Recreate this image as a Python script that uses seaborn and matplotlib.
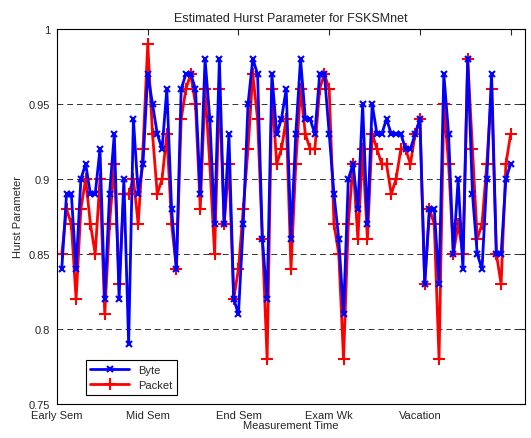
import numpy as np
import pandas as pd
import matplotlib
matplotlib.use("Agg")
import matplotlib.pyplot as plt
import seaborn as sns

sns.set_style("white")
plt.rcParams["font.family"] = ["Liberation Sans", "DejaVu Sans"]

# ── DATA ──────────────────────────────────────────────────────────────────────
byte_h = [0.84, 0.89, 0.89, 0.84, 0.90, 0.91, 0.89, 0.89, 0.92, 0.82,
          0.89, 0.93, 0.82, 0.90, 0.79, 0.94, 0.89, 0.91, 0.97, 0.95,
          0.93, 0.92, 0.96, 0.88, 0.84, 0.96, 0.97, 0.97, 0.96, 0.89,
          0.98, 0.94, 0.87, 0.98, 0.87, 0.93, 0.82, 0.81, 0.87, 0.95,
          0.98, 0.97, 0.86, 0.82, 0.97, 0.93, 0.94, 0.96, 0.86, 0.93,
          0.98, 0.94, 0.94, 0.93, 0.97, 0.97, 0.93, 0.89, 0.86, 0.81,
          0.90, 0.91, 0.88, 0.95, 0.87, 0.95, 0.93, 0.93, 0.94, 0.93,
          0.93, 0.93, 0.92, 0.92, 0.93, 0.94, 0.83, 0.88, 0.88, 0.83,
          0.97, 0.93, 0.85, 0.90, 0.84, 0.98, 0.89, 0.85, 0.84, 0.90,
          0.97, 0.85, 0.85, 0.90, 0.91]
packet_h = [0.85, 0.88, 0.87, 0.82, 0.88, 0.90, 0.87, 0.85, 0.90, 0.81,
            0.87, 0.91, 0.83, 0.89, 0.89, 0.90, 0.87, 0.92, 0.99, 0.93,
            0.89, 0.90, 0.93, 0.87, 0.84, 0.94, 0.96, 0.97, 0.95, 0.88,
            0.96, 0.91, 0.85, 0.96, 0.87, 0.91, 0.82, 0.84, 0.88, 0.92,
            0.97, 0.94, 0.86, 0.78, 0.96, 0.91, 0.92, 0.94, 0.84, 0.91,
            0.96, 0.93, 0.92, 0.92, 0.96, 0.97, 0.96, 0.87, 0.85, 0.78,
            0.87, 0.91, 0.86, 0.92, 0.86, 0.93, 0.92, 0.91, 0.91, 0.89,
            0.90, 0.92, 0.92, 0.91, 0.93, 0.94, 0.83, 0.88, 0.87, 0.78,
            0.95, 0.91, 0.85, 0.87, 0.85, 0.98, 0.92, 0.86, 0.87, 0.91,
            0.96, 0.85, 0.83, 0.91, 0.93]
x_idx = list(range(1, len(byte_h) + 1))
tick_pos = [0, 19, 38, 57, 76, 95]
tick_labels = ["Early Sem", "Mid Sem", "End Sem", "Exam Wk", "Vacation", ""]
y_ticks = [0.75, 0.8, 0.85, 0.9, 0.95, 1.0]
y_labels = ["0.75", "0.8", "0.85", "0.9", "0.95", "1"]

df = pd.DataFrame({"x": x_idx, "Byte": byte_h, "Packet": packet_h})

# ── PLOT ──────────────────────────────────────────────────────────────────────
fig = plt.figure(figsize=(5.31, 4.39), dpi=100)
ax = fig.add_axes([57 / 531, 34 / 439, 468 / 531, 375 / 439])

sns.lineplot(data=df, x="x", y="Byte", ax=ax, color="#0000FF", lw=2,
             marker="x", markersize=5, markeredgewidth=1.5,
             markeredgecolor="#0000FF", label="Byte")
sns.lineplot(data=df, x="x", y="Packet", ax=ax, color="#FF0000", lw=2,
             marker="+", markersize=8, markeredgewidth=1.5,
             markeredgecolor="#FF0000", label="Packet")
# blue drawn above red, as in the reference
ax.lines[0].set_zorder(3)

for y in y_ticks[1:-1]:
    ax.axhline(y, color="black", ls=(0, (6, 4)), lw=0.7, alpha=0.8, zorder=0)

ax.set_xlim(0, 98)
ax.set_ylim(0.75, 1.0)
ax.set_xticks(tick_pos)
ax.set_xticklabels(tick_labels, fontsize=8)
ax.set_yticks(y_ticks)
ax.set_yticklabels(y_labels, fontsize=8)
ax.tick_params(direction="in", length=4, top=True, right=True)
ax.tick_params(axis="x", pad=4)
ax.tick_params(axis="y", pad=5)
for s in ax.spines.values():
    s.set_color("black")
    s.set_linewidth(0.8)

ax.set_title("Estimated Hurst Parameter for FSKSMnet", fontsize=9)
ax.set_xlabel("Measurement Time", fontsize=8, labelpad=0)
ax.set_ylabel("Hurst Parameter", fontsize=8)

leg = ax.legend(loc="lower left", bbox_to_anchor=(0.05, 0.01), fontsize=8,
                fancybox=False, edgecolor="black", framealpha=1,
                handlelength=3.5)
leg.get_frame().set_linewidth(0.8)

fig.savefig("out.png", dpi=100)
